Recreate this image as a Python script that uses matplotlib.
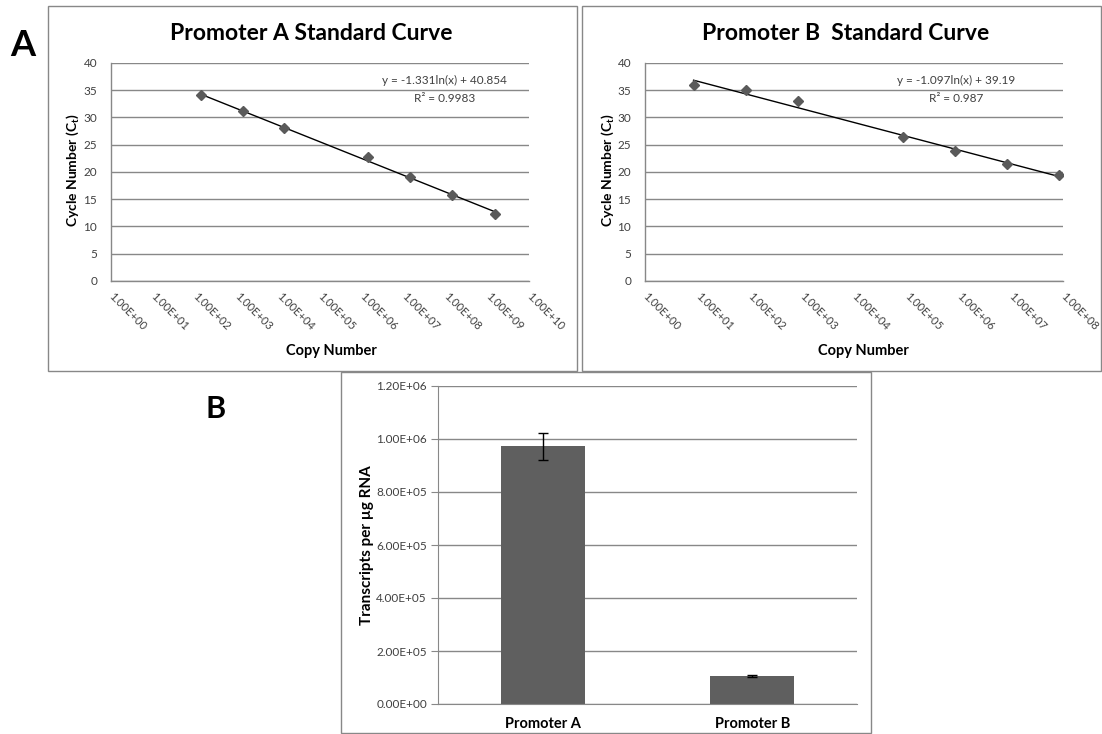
import matplotlib
matplotlib.use("Agg")
import matplotlib.pyplot as plt
import numpy as np
from matplotlib.patches import Rectangle

plt.rcParams['font.family'] = ['Lato', 'DejaVu Sans']
plt.rcParams['mathtext.fontset'] = 'custom'
plt.rcParams['mathtext.rm'] = 'Lato'
plt.rcParams['mathtext.bf'] = 'Lato:bold'

# standard curve data
copies_a = [1.4e2, 1.4e3, 1.4e4, 1.4e6, 1.4e7, 1.4e8, 1.5e9]
ct_a = [34.15, 31.26, 28.0, 22.77, 19.08, 15.69, 12.31]
fit_a = (-1.331, 40.854)
r2_a = 0.9983

copies_b = [8.5, 85, 850, 8.5e4, 8.5e5, 8.5e6, 8.5e7]
ct_b = [35.88, 35.02, 33.11, 26.46, 23.82, 21.48, 19.38]
fit_b = (-1.097, 39.19)
r2_b = 0.987

# transcripts per ug RNA
promoters = ['Promoter A', 'Promoter B']
transcripts = [9.72e5, 1.06e5]
errs = [5.0e4, 5.0e3]

W, H = 1102, 734
fig = plt.figure(figsize=(W / 100, H / 100), dpi=100)

grid_col = '#888888'
txt_col = '#404040'
mark_col = '#5a5a5a'


def fx(px):
    return px / W


def fy(py):
    return 1 - py / H


# panel frames
for x0, y0, x1, y1 in [(48, 6, 577, 371), (582, 6, 1101, 371), (341, 372, 871, 733)]:
    fig.patches.append(Rectangle((fx(x0), fy(y1)), fx(x1 - x0), (y1 - y0) / H,
                                 transform=fig.transFigure, fill=False,
                                 edgecolor=grid_col, linewidth=1))


def std_curve(rect, copies, ct, fit, r2, ndec, title, eq_x, box_cx, xlab_x, ylab_x):
    ax = fig.add_axes(rect)
    ax.set_xscale('log')
    ax.set_xlim(1, 10 ** ndec)
    ax.set_ylim(0, 40)
    ax.set_yticks(range(0, 41, 5))
    ax.set_xticks([10.0 ** k for k in range(ndec + 1)])
    ax.minorticks_off()
    ax.set_xticklabels(['%.2E' % (10.0 ** k) for k in range(ndec + 1)],
                       rotation=-45, ha='left', va='center', rotation_mode='anchor')
    ax.tick_params(axis='x', length=0, pad=10, labelsize=8, labelcolor=txt_col)
    ax.tick_params(axis='y', length=0, pad=10, labelsize=8.5, labelcolor=txt_col)
    ax.grid(axis='y', color=grid_col, linewidth=1)
    ax.set_axisbelow(True)
    for s in ['top', 'right']:
        ax.spines[s].set_visible(False)
    for s in ['left', 'bottom']:
        ax.spines[s].set_color(grid_col)
        ax.spines[s].set_linewidth(1)

    xs = np.array([min(copies), max(copies)])
    ax.plot(xs, fit[0] * np.log(xs) + fit[1], color='black', linewidth=1)
    ax.plot(copies, ct, 'D', color=mark_col, markersize=5.5, zorder=3)

    ax.text(eq_x, 36.8, 'y = %.3fln(x) + %s' % (fit[0], str(fit[1])),
            ha='center', va='center', fontsize=8.5, color=txt_col)
    ax.text(eq_x, 33.4, 'R² = %s' % str(r2), ha='center', va='center',
            fontsize=8.5, color=txt_col)

    fig.text(fx(box_cx), fy(33), title, ha='center', va='center',
             fontsize=16.5, fontweight='bold')
    fig.text(fx(xlab_x), fy(351), 'Copy Number', ha='center', va='center',
             fontsize=10.5, fontweight='bold')
    fig.text(fx(ylab_x), fy(170), r'Cycle Number (C$_\mathbf{t}$)', ha='center',
             va='center', rotation=90, fontsize=10, fontweight='bold')
    return ax


std_curve([fx(111), fy(281), fx(529 - 111), 218 / H], copies_a, ct_a, fit_a, r2_a, 10,
          'Promoter A Standard Curve', 10 ** 7.97, 311, 331, 73)
std_curve([fx(645), fy(281), fx(1063 - 645), 218 / H], copies_b, ct_b, fit_b, r2_b, 8,
          'Promoter B  Standard Curve', 10 ** 5.95, 846, 863, 608)

# panel B bar chart
axb = fig.add_axes([fx(438), fy(704), fx(857 - 438), 318 / H])
axb.bar(promoters, transcripts, width=0.4, color='#5f5f5f', zorder=2)
axb.errorbar(promoters, transcripts, yerr=errs, fmt='none', ecolor='black',
             elinewidth=1, capsize=3.5, capthick=1, zorder=3)
axb.set_xlim(-0.5, 1.5)
axb.set_ylim(0, 1.2e6)
axb.set_yticks(np.arange(0, 1.21e6, 2e5))
axb.set_yticklabels(['%.2E' % v for v in np.arange(0, 1.21e6, 2e5)])
axb.grid(axis='y', color=grid_col, linewidth=1)
axb.set_axisbelow(True)
for s in ['top', 'right']:
    axb.spines[s].set_visible(False)
for s in ['left', 'bottom']:
    axb.spines[s].set_color(grid_col)
axb.tick_params(axis='y', length=5, color=grid_col, pad=3, labelsize=8.5, labelcolor=txt_col)
axb.tick_params(axis='x', length=0, pad=9)
for lab in axb.get_xticklabels():
    lab.set_fontweight('bold')
    lab.set_fontsize(10.5)
fig.text(fx(367), fy(545), 'Transcripts per µg RNA', ha='center', va='center',
         rotation=90, fontsize=11, fontweight='bold')

# panel letters
fig.text(fx(23), fy(46), 'A', ha='center', va='center', fontsize=26, fontweight='bold')
fig.text(fx(216), fy(409), 'B', ha='center', va='center', fontsize=22, fontweight='bold')

fig.savefig('out.png', dpi=100)
